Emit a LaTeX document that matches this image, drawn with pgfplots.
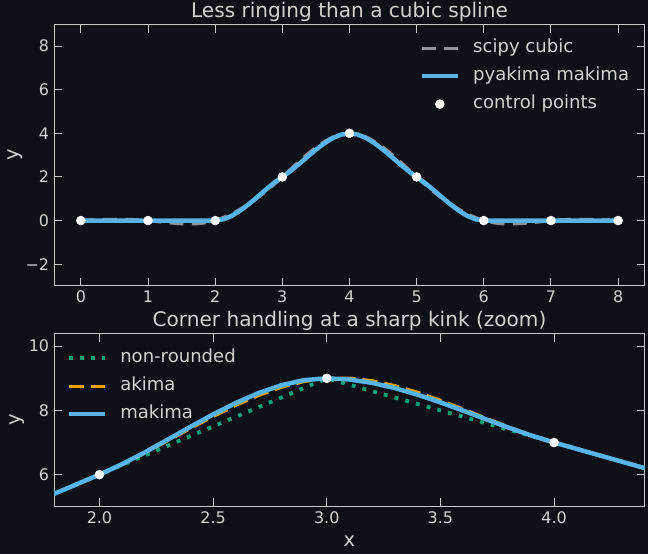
\documentclass[border=0pt]{standalone}
\usepackage{fontspec}
\setmainfont{DejaVu Sans}
\usepackage{pgfplots}
\pgfplotsset{compat=1.18}
\definecolor{bg}{HTML}{0D1017}
\definecolor{fg}{HTML}{D2D2D2}
\definecolor{framec}{HTML}{C8C8C8}
\definecolor{skyb}{HTML}{56B4E9}
\definecolor{orng}{HTML}{E69F00}
\definecolor{grn}{HTML}{009E73}
\definecolor{cgray}{HTML}{8F9196}
\pgfplotsset{
  darkax/.style={
    scale only axis, width=425.5pt, anchor=north west,
    axis line style={framec, line width=0.7pt},
    every tick/.style={framec, line width=0.7pt},
    major tick length=6pt,
    tick align=inside,
    xtick pos=both, ytick pos=both,
    xticklabel pos=bottom, yticklabel pos=left,
    tick label style={text=fg, font=\fontsize{11.5}{13}\selectfont},
    /pgf/number format/assume math mode=true,
    every axis title shift=0pt,
    title style={at={(axis description cs:0.5,1)}, anchor=base, yshift=4.8pt,
      text=fg, font=\fontsize{14.45}{16}\selectfont},
    label style={text=fg, font=\fontsize{14}{16}\selectfont},
    legend cell align=left,
    legend image code/.code={\draw[mark repeat=2,mark phase=2,##1] plot coordinates {(0pt,0pt) (13pt,0pt) (26pt,0pt)};},
    legend style={draw=none, fill=none, text=fg, font=\fontsize{13}{15}\selectfont,
      inner sep=0pt, row sep=4.6pt, column sep=7.5pt,
      nodes={inner sep=2pt, text height=9pt, text depth=2.5pt}},
  },
}
\begin{document}
\begin{tikzpicture}
\fill[bg] (-5pt,5pt) rectangle (471.56pt,-403.88pt);
\begin{axis}[darkax, at={(38.88pt,-17.5pt)}, height=188.4pt,
  xmin=-0.4, xmax=8.4, ymin=-3, ymax=9,
  xtick={0,1,2,3,4,5,6,7,8}, xticklabels={0,1,2,3,4,5,6,7,8},
  ytick={-2,0,2,4,6,8}, yticklabels={−2,0,2,4,6,8},
  title={Less ringing than a cubic spline},
  ylabel={y},
  ylabel style={at={([xshift=-25.9pt]axis description cs:0,0.5)}, anchor=base, rotate=0},
  legend style={at={(axis description cs:0.618,0.9505)}, anchor=north west},
]
\addplot[cgray, line width=2.5pt, dash pattern=on 10pt off 6pt, smooth] coordinates {
(0,0) (0.25,0.0290) (0.5,0.0464) (0.75,0.0406) (1,0) (1.25,-0.0754) (1.5,-0.1392) (1.75,-0.1334)
(2,0) (2.25,0.3038) (2.5,0.7603) (2.75,1.3367) (3,2) (3.25,2.7039) (3.5,3.3479) (3.75,3.8180)
(4,4) (4.25,3.8180) (4.5,3.3479) (4.75,2.7039) (5,2) (5.25,1.3367) (5.5,0.7603) (5.75,0.3038)
(6,0) (6.25,-0.1334) (6.5,-0.1392) (6.75,-0.0754) (7,0) (7.25,0.0406) (7.5,0.0464) (7.75,0.0290) (8,0)};
\addlegendentry{scipy cubic}
\addplot[skyb, line width=3.2pt, line join=round] coordinates {
(0,0) (2,0) (2.125,0.0586) (2.25,0.2188) (2.375,0.4570) (2.5,0.75) (2.625,1.0742) (2.75,1.4063) (2.875,1.7227)
(3,2) (3.125,2.2773) (3.25,2.5938) (3.375,2.9258) (3.5,3.25) (3.625,3.5430) (3.75,3.7813) (3.875,3.9414)
(4,4) (4.125,3.9414) (4.25,3.7813) (4.375,3.5430) (4.5,3.25) (4.625,2.9258) (4.75,2.5938) (4.875,2.2773)
(5,2) (5.125,1.7227) (5.25,1.4063) (5.375,1.0742) (5.5,0.75) (5.625,0.4570) (5.75,0.2188) (5.875,0.0586)
(6,0) (8,0)};
\addlegendentry{pyakima makima}
\addplot[only marks, mark=*, mark size=3.2pt, mark options={fill=white, draw=white}] coordinates {
(0,0) (1,0) (2,0) (3,2) (4,4) (5,2) (6,0) (7,0) (8,0)};
\addlegendentry{control points}
\end{axis}
\begin{axis}[darkax, at={(38.88pt,-240pt)}, height=124.85pt,
  xmin=1.8, xmax=4.4, ymin=5, ymax=10.4,
  xtick={2,2.5,3,3.5,4}, xticklabels={2.0,2.5,3.0,3.5,4.0},
  ytick={6,8,10}, yticklabels={6,8,10},
  title={Corner handling at a sharp kink (zoom)},
  xlabel={x}, ylabel={y},
  xlabel style={at={([yshift=-28.3pt]axis description cs:0.5,0)}, anchor=base},
  ylabel style={at={([xshift=-23.8pt]axis description cs:0,0.5)}, anchor=base, rotate=0},
  legend style={at={(axis description cs:0.0207,0.919)}, anchor=north west},
]
\addplot[grn, line width=2.8pt, dash pattern=on 2.8pt off 5.2pt] coordinates {
(1.8,5.4) (3,9) (4.4,6.2)};
\addlegendentry{non-rounded}
\addplot[orng, line width=2.4pt, dash pattern=on 11pt off 5pt] coordinates {
(1.8,5.4) (2,6) (2.1,6.3225) (2.2,6.68) (2.3,7.0575) (2.4,7.44) (2.5,7.8125) (2.6,8.16) (2.7,8.4675) (2.8,8.72) (2.9,8.9025)
(3,9) (3.1,9.0025) (3.2,8.92) (3.3,8.7675) (3.4,8.56) (3.5,8.3125) (3.6,8.04) (3.7,7.7575) (3.8,7.48) (3.9,7.2225)
(4,7) (4.4,6.2)};
\addlegendentry{akima}
\addplot[skyb, line width=3.2pt, line join=round] coordinates {
(1.8,5.4) (2,6) (2.1,6.327) (2.2,6.696) (2.3,7.089) (2.4,7.488) (2.5,7.875) (2.6,8.232) (2.7,8.541) (2.8,8.784) (2.9,8.943)
(3,9) (3.1,8.962) (3.2,8.856) (3.3,8.694) (3.4,8.488) (3.5,8.25) (3.6,7.992) (3.7,7.726) (3.8,7.464) (3.9,7.218)
(4,7) (4.4,6.2)};
\addlegendentry{makima}
\addplot[only marks, mark=*, mark size=3.2pt, mark options={fill=white, draw=white}, forget plot] coordinates {
(2,6) (3,9) (4,7)};
\end{axis}
\pgfresetboundingbox
\path[use as bounding box] (0pt,0pt) rectangle (466.56pt,-398.88pt);
\end{tikzpicture}
\end{document}
